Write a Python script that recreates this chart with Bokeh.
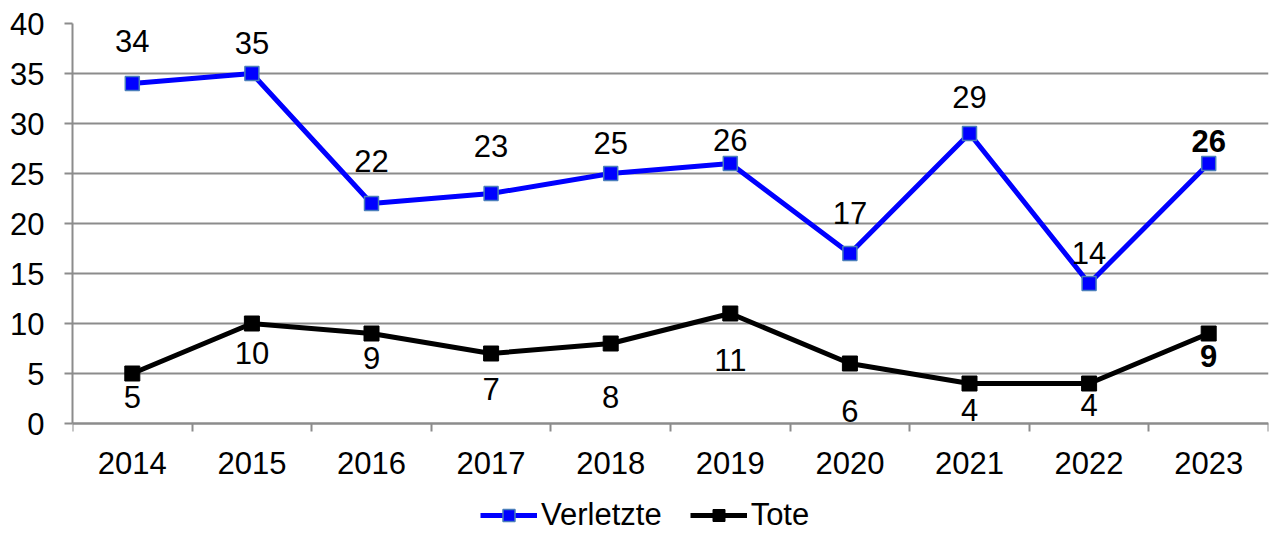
from bokeh.plotting import figure
from bokeh.models import (ColumnDataSource, Range1d, FixedTicker, Legend, LegendItem)
from bokeh.core.properties import value
from bokeh.embed import file_html
from bokeh.resources import INLINE

years = ["2014", "2015", "2016", "2017", "2018", "2019", "2020", "2021", "2022", "2023"]
verletzte = [34, 35, 22, 23, 25, 26, 17, 29, 14, 26]
tote = [5, 10, 9, 7, 8, 11, 6, 4, 4, 9]
y_ticks = [0, 5, 10, 15, 20, 25, 30, 35, 40]

# label placement (screen px, relative to the point) and styles
verl_label_dy = [-43, -31, -43, -48, -31, -24, -41, -37, -31, -23]
tote_label_dy = [23, 29, 24, 35, 53, 46, 47, 26, 21, 22]
label_style = ["normal"] * 9 + ["bold"]

FONT = "Liberation Sans"
FS = "31px"
GRID = "#8c8c8c"

x = [i + 0.5 for i in range(len(years))]

src = ColumnDataSource(dict(
    x=x, v=verletzte, t=tote,
    vs=[str(a) for a in verletzte], ts=[str(a) for a in tote],
    vdy=verl_label_dy, tdy=tote_label_dy, st=label_style,
))

# the frame reaches the bottom of the page; the space below 0 holds
# the year labels and the legend
p = figure(width=1271, height=533, output_backend="svg", toolbar_location=None,
           x_range=Range1d(0, len(years)), y_range=Range1d(-11, 40),
           min_border_left=72, min_border_right=3, min_border_top=23,
           min_border_bottom=0)
p.outline_line_color = None
p.background_fill_color = "white"
p.border_fill_color = "white"

# axes
p.yaxis.ticker = FixedTicker(ticks=y_ticks)
p.yaxis.bounds = (0, 40)
p.yaxis.axis_line_color = GRID
p.yaxis.axis_line_width = 2
p.yaxis.major_tick_line_color = GRID
p.yaxis.major_tick_line_width = 2
p.yaxis.major_tick_out = 8
p.yaxis.major_tick_in = 0
p.yaxis.minor_tick_line_color = None
p.yaxis.major_label_text_font = FONT
p.yaxis.major_label_text_font_size = FS
p.yaxis.major_label_text_color = "black"
p.yaxis.major_label_standoff = 20

p.xaxis.fixed_location = 0
p.xaxis.ticker = FixedTicker(ticks=x, minor_ticks=list(range(len(years) + 1)))
p.xaxis.major_label_overrides = {xi: yr for xi, yr in zip(x, years)}
p.xaxis.axis_line_color = GRID
p.xaxis.axis_line_width = 2
p.xaxis.major_tick_line_color = None
p.xaxis.major_tick_out = 0
p.xaxis.major_tick_in = 0
p.xaxis.minor_tick_line_color = GRID
p.xaxis.minor_tick_line_width = 2
p.xaxis.minor_tick_out = 8
p.xaxis.minor_tick_in = 0
p.xaxis.major_label_text_font = FONT
p.xaxis.major_label_text_font_size = FS
p.xaxis.major_label_text_color = "black"
p.xaxis.major_label_standoff = 20

p.xgrid.grid_line_color = None
p.ygrid.ticker = FixedTicker(ticks=y_ticks)
p.ygrid.grid_line_color = GRID
p.ygrid.grid_line_width = 2

# series
l1 = p.line("x", "v", source=src, line_color="#0000FF", line_width=5)
m1 = p.scatter("x", "v", source=src, marker="square", size=14,
               fill_color="#0000FF", line_color="#4A7EBB", line_width=1.5)
l2 = p.line("x", "t", source=src, line_color="black", line_width=5)
m2 = p.scatter("x", "t", source=src, marker="square", size=15,
               fill_color="black", line_color="black", line_width=1)

p.text("x", "v", text="vs", source=src, y_offset="vdy", text_font=value(FONT),
       text_font_size=FS, text_font_style="st", text_color="black",
       text_align="center", text_baseline="middle")
p.text("x", "t", text="ts", source=src, y_offset="tdy", text_font=value(FONT),
       text_font_size=FS, text_font_style="st", text_color="black",
       text_align="center", text_baseline="middle")

legend = Legend(items=[LegendItem(label="Verletzte", renderers=[l1, m1]),
                       LegendItem(label="Tote", renderers=[l2, m2])],
                orientation="horizontal", location=(408, 0),
                glyph_width=57, glyph_height=30, label_height=30,
                label_standoff=4, spacing=28, padding=0, margin=0,
                label_text_font=FONT, label_text_font_size=FS,
                label_text_color="black",
                border_line_color=None, background_fill_alpha=0)
p.add_layout(legend)

open("out.html", "w").write(file_html(p, INLINE))
